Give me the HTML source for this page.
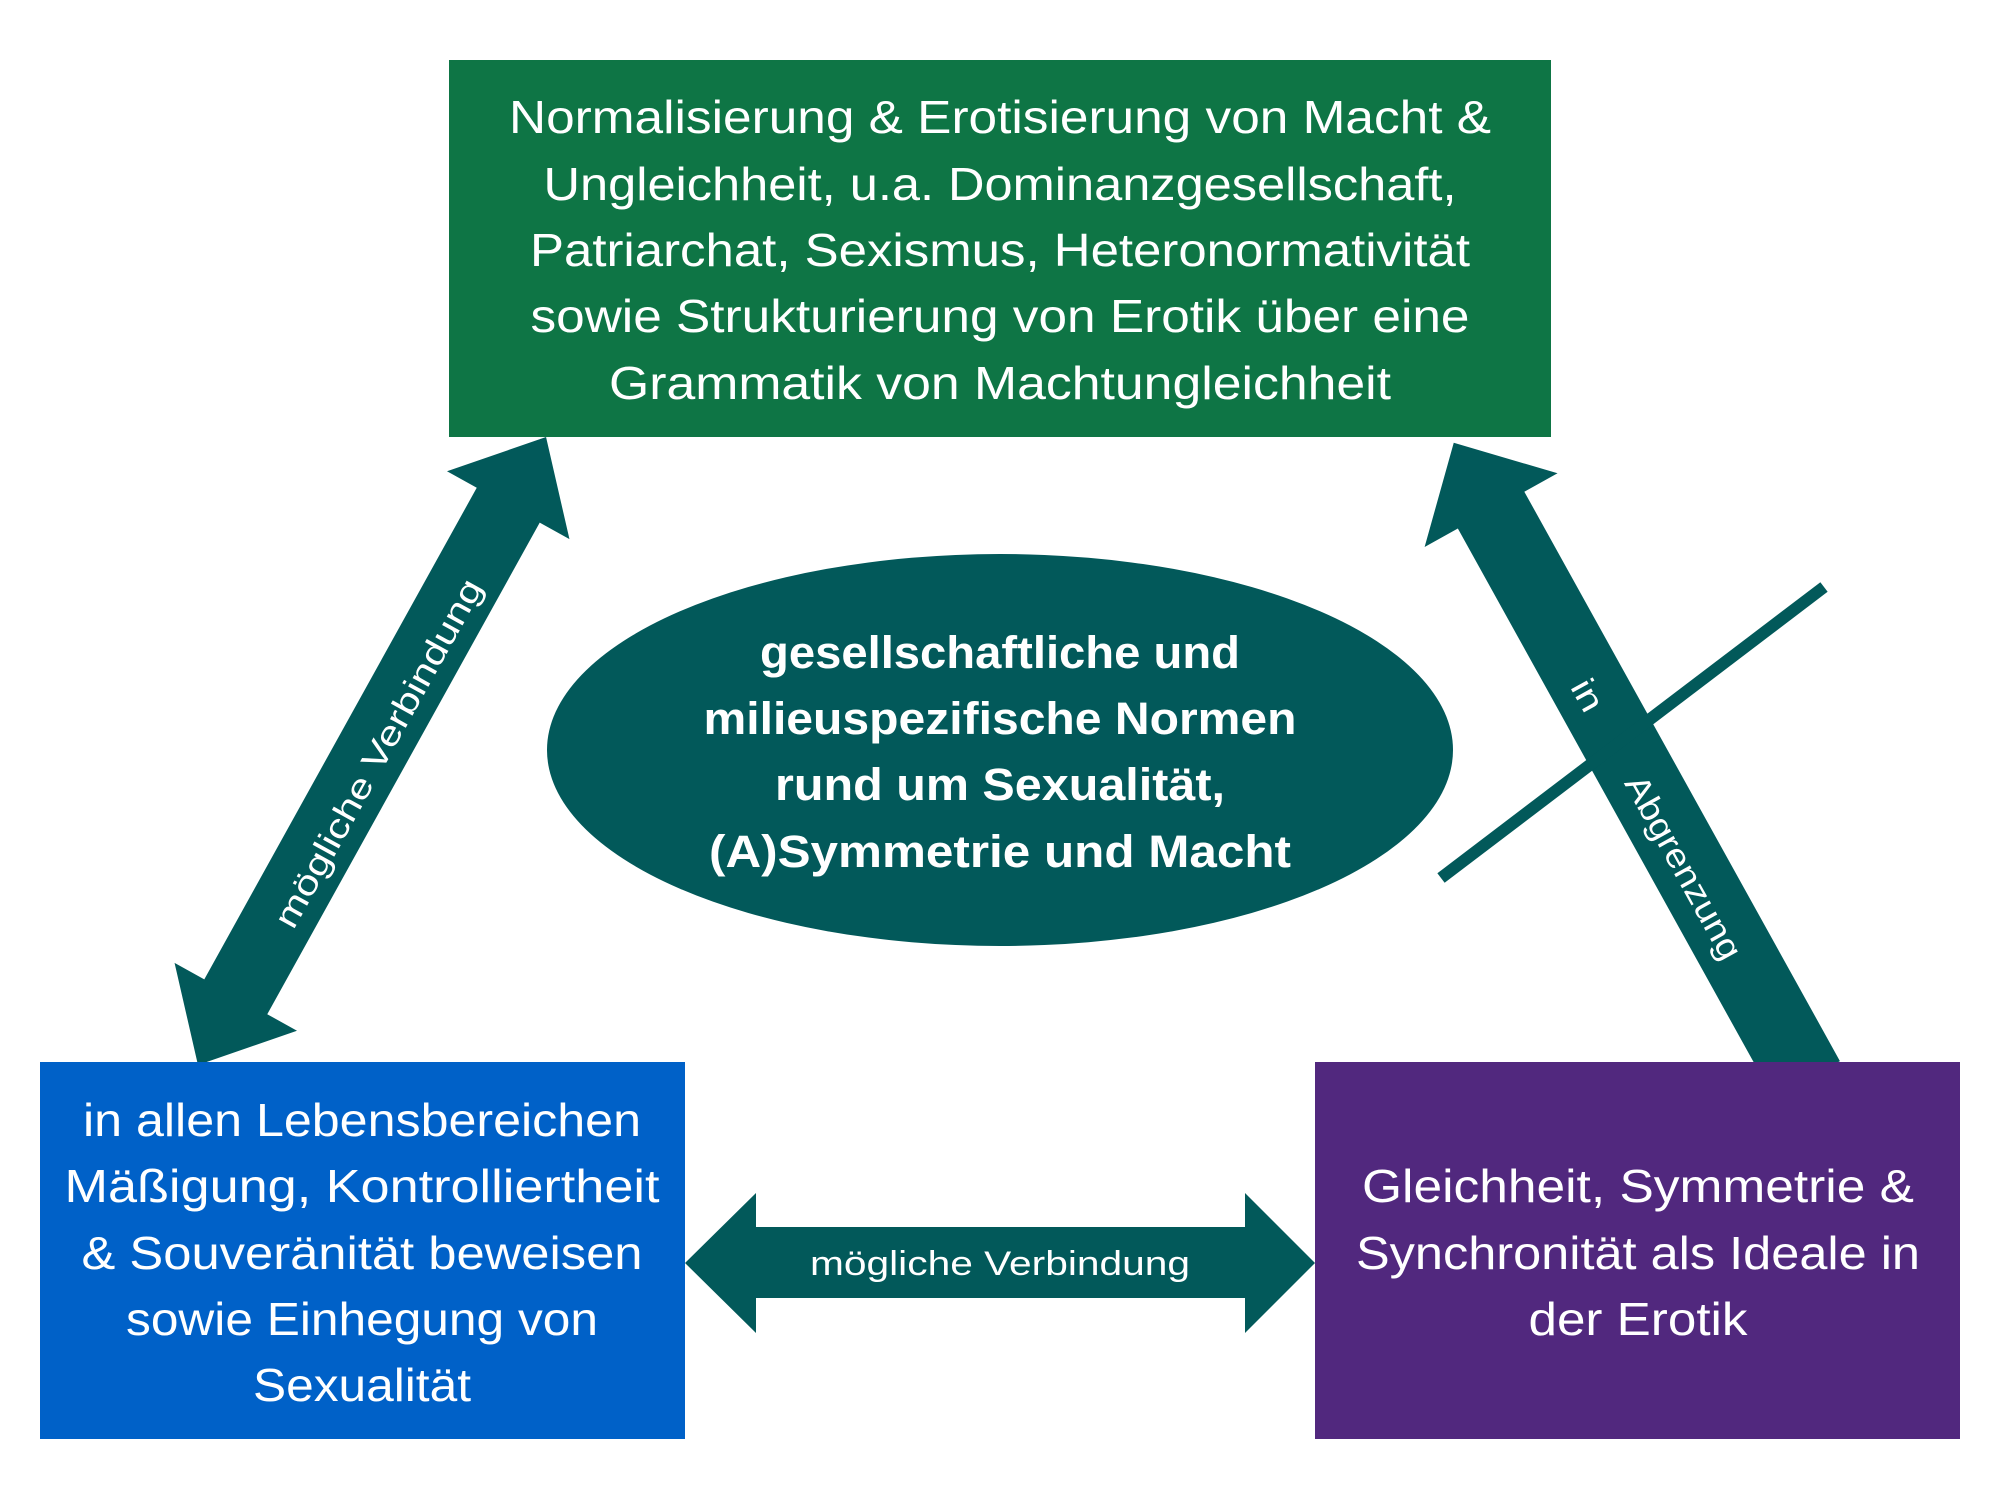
<!DOCTYPE html>
<html><head><meta charset="utf-8"><style>html,body{margin:0;padding:0;background:#fff}svg{display:block}</style></head>
<body>
<svg width="2000" height="1500" viewBox="0 0 2000 1500" xmlns="http://www.w3.org/2000/svg" font-family="'Liberation Sans', sans-serif">
<rect width="2000" height="1500" fill="#fff"/>
<g fill="#02595A">
<polygon transform="translate(372,751) rotate(-61)" points="-359,0 -281,-70 -281,-36 281,-36 281,-70 359,0 281,70 281,36 -281,36 -281,70"/>
<polygon transform="translate(1797,1062) rotate(-119)" points="-20,-38 631,-38 631,-76 708,0 631,76 631,38 -20,38"/>
<polygon points="685,1263 756,1193 756,1227 1245,1227 1245,1193 1315,1263 1245,1333 1245,1298 756,1298 756,1333"/>
</g>
<line x1="1824" y1="587" x2="1441" y2="878" stroke="#02595A" stroke-width="12"/>
<rect x="449" y="60" width="1102" height="377" fill="#0E7545"/>
<rect x="40" y="1062" width="645" height="377" fill="#0061C8"/>
<rect x="1315" y="1062" width="645" height="377" fill="#51287E"/>
<ellipse cx="1000" cy="750" rx="453" ry="196" fill="#02595A"/>
<g fill="#fff" font-size="46" text-anchor="middle">
<text x="1000" y="133" textLength="982" lengthAdjust="spacingAndGlyphs">Normalisierung &amp; Erotisierung von Macht &amp;</text>
<text x="1000" y="200" textLength="913" lengthAdjust="spacingAndGlyphs">Ungleichheit, u.a. Dominanzgesellschaft,</text>
<text x="1000" y="266" textLength="940" lengthAdjust="spacingAndGlyphs">Patriarchat, Sexismus, Heteronormativität</text>
<text x="1000" y="332" textLength="939" lengthAdjust="spacingAndGlyphs">sowie Strukturierung von Erotik über eine</text>
<text x="1000" y="399" textLength="782" lengthAdjust="spacingAndGlyphs">Grammatik von Machtungleichheit</text>

<text x="362" y="1136" textLength="558" lengthAdjust="spacingAndGlyphs">in allen Lebensbereichen</text>
<text x="362" y="1202" textLength="595" lengthAdjust="spacingAndGlyphs">Mäßigung, Kontrolliertheit</text>
<text x="362" y="1269" textLength="561" lengthAdjust="spacingAndGlyphs">&amp; Souveränität beweisen</text>
<text x="362" y="1335" textLength="472" lengthAdjust="spacingAndGlyphs">sowie Einhegung von</text>
<text x="362" y="1401" textLength="218" lengthAdjust="spacingAndGlyphs">Sexualität</text>

<text x="1638" y="1202" textLength="552" lengthAdjust="spacingAndGlyphs">Gleichheit, Symmetrie &amp;</text>
<text x="1638" y="1269" textLength="564" lengthAdjust="spacingAndGlyphs">Synchronität als Ideale in</text>
<text x="1638" y="1335" textLength="219" lengthAdjust="spacingAndGlyphs">der Erotik</text>
</g>
<g fill="#fff" font-size="45" font-weight="bold" text-anchor="middle">
<text x="1000" y="668" textLength="480" lengthAdjust="spacingAndGlyphs">gesellschaftliche und</text>
<text x="1000" y="734" textLength="593" lengthAdjust="spacingAndGlyphs">milieuspezifische Normen</text>
<text x="1000" y="800" textLength="450" lengthAdjust="spacingAndGlyphs">rund um Sexualität,</text>
<text x="1000" y="867" textLength="582" lengthAdjust="spacingAndGlyphs">(A)Symmetrie und Macht</text>
</g>
<g fill="#fff" font-size="34" text-anchor="middle">
<text x="1000" y="1275" textLength="380" lengthAdjust="spacingAndGlyphs">mögliche Verbindung</text>
<text transform="translate(378,753) rotate(-61)" x="0" y="12" textLength="393" lengthAdjust="spacingAndGlyphs">mögliche Verbindung</text>
<text transform="translate(1588,695) rotate(61)" x="0" y="12" textLength="32" lengthAdjust="spacingAndGlyphs">in</text>
<text transform="translate(1684,867) rotate(61)" x="0" y="12" textLength="205" lengthAdjust="spacingAndGlyphs">Abgrenzung</text>
</g>
</svg>
</body></html>
